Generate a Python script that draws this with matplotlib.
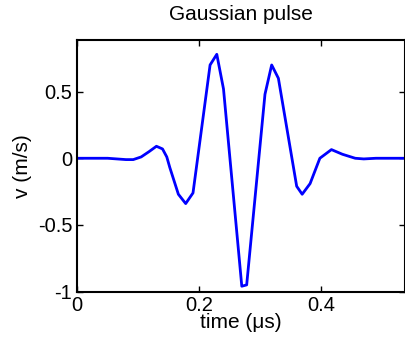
import matplotlib
matplotlib.use("Agg")
import matplotlib.pyplot as plt

plt.rcParams["font.family"] = ["Liberation Sans", "DejaVu Sans"]
plt.rcParams["axes.unicode_minus"] = False

# pulse samples: time (us) and particle velocity (m/s)
t_us = [0.0, 0.05, 0.065, 0.08, 0.092, 0.105, 0.118, 0.130, 0.140, 0.147, 0.152,
        0.166, 0.178, 0.190, 0.218, 0.229, 0.240, 0.270, 0.278, 0.308, 0.319,
        0.330, 0.360, 0.369, 0.382, 0.398, 0.417, 0.435, 0.456, 0.47, 0.49, 0.5376]
v_ms = [0.0, 0.0, -0.005, -0.01, -0.01, 0.01, 0.05, 0.09, 0.07, 0.01, -0.07,
        -0.27, -0.34, -0.26, 0.70, 0.78, 0.52, -0.96, -0.95, 0.48, 0.70,
        0.60, -0.21, -0.27, -0.19, 0.0, 0.065, 0.03, 0.0, -0.005, 0.0, 0.0]

fig = plt.figure(figsize=(4.06, 3.41), dpi=100)
ax = fig.add_axes([0.19, 0.145, 0.8075, 0.738])
ax.plot(t_us, v_ms, color="#0000ff", linewidth=2)

ax.set_xlim(0, 0.5376)
ax.set_ylim(-1, 0.888)
ax.set_xticks([0, 0.2, 0.4])
ax.set_xticklabels(["0", "0.2", "0.4"])
ax.set_yticks([-1, -0.5, 0, 0.5])
ax.set_yticklabels(["-1", "-0.5", "0", "0.5"])
ax.tick_params(direction="in", top=True, right=True, labelsize=14.5, length=4, width=1)
ax.tick_params(axis="x", pad=3)
for s in ax.spines.values():
    s.set_linewidth(1.5)

ax.set_title("Gaussian pulse", fontsize=15, pad=14)
ax.set_xlabel("time (\u03bcs)", fontsize=15, labelpad=-1)
ax.set_ylabel("v (m/s)", fontsize=15, labelpad=4)

fig.savefig("out.png", dpi=100)
